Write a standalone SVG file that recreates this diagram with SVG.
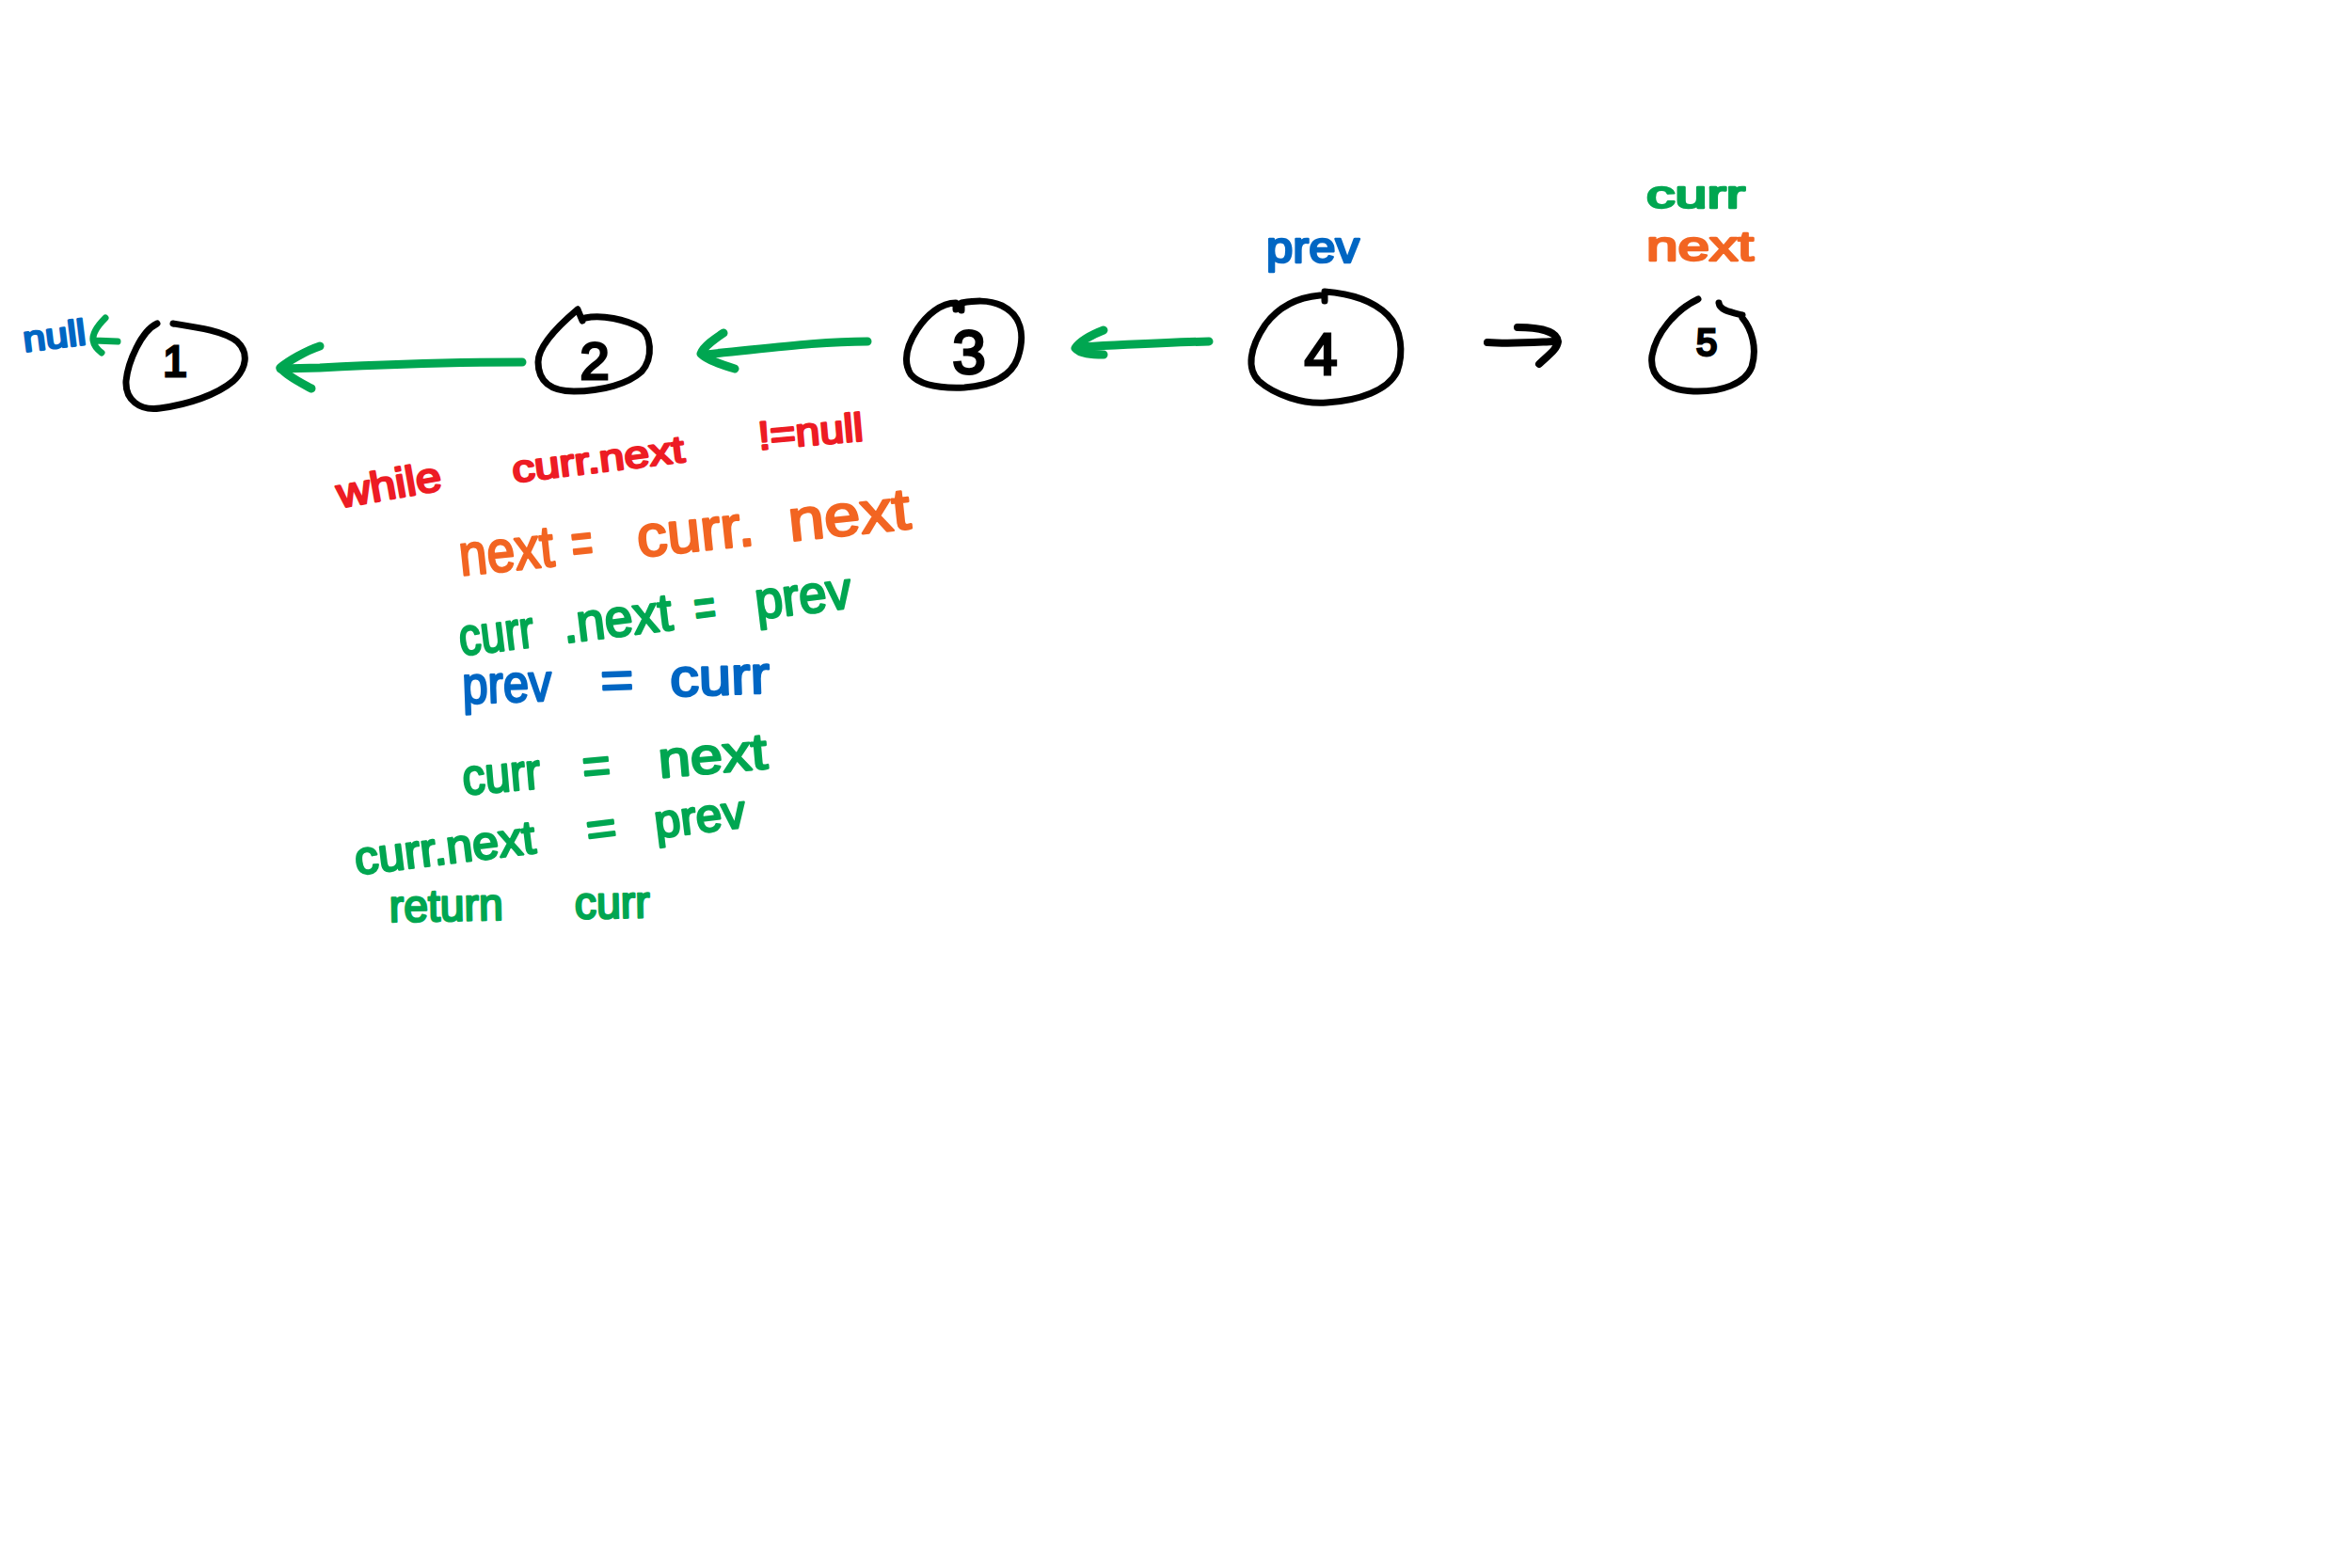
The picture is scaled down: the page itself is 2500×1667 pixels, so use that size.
<svg xmlns="http://www.w3.org/2000/svg" width="2500" height="1667" viewBox="0 0 2500 1667">
<style>
.ink{fill:none;stroke-linecap:round;stroke-linejoin:round}
.blk{stroke:#000;stroke-width:7}
.grn{stroke:#00A651;stroke-width:9}
.hw{font-family:"Liberation Sans",Arial,sans-serif;stroke-linejoin:round;stroke-width:2.5}
.digit{font-family:"Liberation Sans",Arial,sans-serif;fill:#000;stroke:#000;stroke-width:3;text-anchor:middle}
.tg{fill:#00A651;stroke:#00A651}
.to{fill:#F26522;stroke:#F26522}
.tb{fill:#0066C3;stroke:#0066C3}
.tr{fill:#ED1C24;stroke:#ED1C24}
</style>
<rect width="2500" height="1667" fill="#fff"/>

<g id="connectors">
  <g id="edge-null-1">
    <path class="ink grn" style="stroke-width:7" d="M112,338 C104,346 98,355 99,362 C100,368 104,372 108,375 M100,362 L125,363"/>
  </g>
  <g id="edge-2-1">
    <path class="ink grn" d="M555,385 C500,385 420,387 340,391 L298,392"/>
    <path class="ink grn" d="M340,368 C325,373 306,384 298,391 C305,400 320,407 331,413"/>
  </g>
  <g id="edge-3-2">
    <path class="ink grn" d="M922,363 C870,363 820,370 748,377"/>
    <path class="ink grn" d="M769,354 C760,360 748,368 745,376 C752,383 768,388 781,392"/>
  </g>
  <g id="edge-4-3">
    <path class="ink grn" d="M1285,363 C1240,364 1190,367 1146,369"/>
    <path class="ink grn" d="M1173,351 C1160,356 1148,363 1143,370 C1148,376 1160,377 1173,377"/>
  </g>
  <g id="edge-4-5">
    <path class="ink blk" style="stroke-width:8" d="M1581,364 C1605,366 1630,364 1652,363"/>
    <path class="ink blk" style="stroke-width:8" d="M1613,348 C1635,348 1655,352 1656,363 C1655,372 1645,378 1636,387"/>
  </g>
</g>

<g id="node-1">
  <path class="ink blk" d="M167,344 C150,352 136,385 134,405 C133,425 148,437 170,434 C200,430 230,420 248,405 C262,392 265,375 252,363 C238,352 210,348 184,344"/>
  <text class="digit" x="186" y="400" font-size="46">1</text>
</g>
<g id="node-2">
  <path class="ink blk" d="M614,329 C595,345 572,368 572,385 C572,405 585,416 610,416 C640,416 668,408 682,395 C695,380 692,355 680,348 C665,340 640,334 622,338 M614,329 L619,341"/>
  <text class="digit" x="632" y="403" font-size="56">2</text>
</g>
<g id="node-3">
  <path class="ink blk" d="M1016,329 L1016,322 C1000,322 985,335 975,350 C962,370 960,385 968,398 C978,410 1000,413 1025,412 C1055,410 1075,400 1082,380 C1090,355 1085,335 1065,325 C1050,318 1035,320 1022,322 L1022,330"/>
  <text class="digit" x="1030" y="397" font-size="64">3</text>
</g>
<g id="node-4">
  <path class="ink blk" d="M1403,314 C1380,316 1360,325 1345,345 C1328,370 1325,392 1338,405 C1355,420 1385,430 1410,428 C1445,426 1475,415 1485,395 C1492,375 1490,350 1475,335 C1460,320 1435,312 1408,310 L1408,320"/>
  <text class="digit" x="1404" y="398" font-size="63">4</text>
</g>
<g id="node-5">
  <path class="ink blk" d="M1805,318 C1780,330 1760,355 1756,378 C1753,400 1770,415 1800,416 C1830,417 1855,408 1862,390 C1868,370 1862,350 1852,338 M1827,322 C1828,330 1840,332 1852,335"/>
  <text class="digit" x="1814" y="378" font-size="40">5</text>
</g>

<g id="labels">
  <text class="hw tb" transform="translate(26,374) rotate(-7)" font-size="38" textLength="67" lengthAdjust="spacingAndGlyphs">null</text>
  <text class="hw tb" x="1346" y="279" font-size="46" textLength="99" lengthAdjust="spacingAndGlyphs">prev</text>
  <text class="hw tg" x="1750" y="221" font-size="40" textLength="105" lengthAdjust="spacingAndGlyphs">curr</text>
  <text class="hw to" x="1750" y="277" font-size="44" textLength="114" lengthAdjust="spacingAndGlyphs">next</text>
</g>

<g id="code">
  <text class="hw tr" transform="translate(361,540) rotate(-10)" font-size="44" textLength="112" lengthAdjust="spacingAndGlyphs">while</text>
  <text class="hw tr" transform="translate(546,513) rotate(-7)" font-size="40" textLength="184" lengthAdjust="spacingAndGlyphs">curr.next</text>
  <text class="hw tr" transform="translate(807,478) rotate(-5)" font-size="42" textLength="112" lengthAdjust="spacingAndGlyphs">!=null</text>

  <text class="hw to" transform="translate(490,612) rotate(-6)" font-size="62"><tspan x="0" textLength="101" lengthAdjust="spacingAndGlyphs">next</tspan><tspan x="120" textLength="23" lengthAdjust="spacingAndGlyphs">=</tspan><tspan x="190" textLength="125" lengthAdjust="spacingAndGlyphs">curr.</tspan><tspan x="352" textLength="130" lengthAdjust="spacingAndGlyphs">next</tspan></text>

  <text class="hw tg" transform="translate(490,697) rotate(-7)" font-size="56"><tspan x="0" textLength="80" lengthAdjust="spacingAndGlyphs">curr</tspan><tspan x="111" textLength="117" lengthAdjust="spacingAndGlyphs">.next</tspan><tspan x="252" textLength="23" lengthAdjust="spacingAndGlyphs">=</tspan><tspan x="317" textLength="103" lengthAdjust="spacingAndGlyphs">prev</tspan></text>

  <text class="hw tb" transform="translate(492,748) rotate(-2)" font-size="56"><tspan x="0" textLength="95" lengthAdjust="spacingAndGlyphs">prev</tspan><tspan x="147" textLength="35" lengthAdjust="spacingAndGlyphs">=</tspan><tspan x="221" textLength="106" lengthAdjust="spacingAndGlyphs">curr</tspan></text>

  <text class="hw tg" transform="translate(493,845) rotate(-5)" font-size="54"><tspan x="0" textLength="83" lengthAdjust="spacingAndGlyphs">curr</tspan><tspan x="128" textLength="30" lengthAdjust="spacingAndGlyphs">=</tspan><tspan x="209" textLength="116" lengthAdjust="spacingAndGlyphs">next</tspan></text>

  <text class="hw tg" transform="translate(379,930) rotate(-7)" font-size="50"><tspan x="0" textLength="193" lengthAdjust="spacingAndGlyphs">curr.next</tspan><tspan x="248" textLength="32" lengthAdjust="spacingAndGlyphs">=</tspan><tspan x="321" textLength="97" lengthAdjust="spacingAndGlyphs">prev</tspan></text>

  <text class="hw tg" transform="translate(414,980) rotate(-1)" font-size="48"><tspan x="0" textLength="121" lengthAdjust="spacingAndGlyphs">return</tspan><tspan x="197" textLength="80" lengthAdjust="spacingAndGlyphs">curr</tspan></text>
</g>
</svg>
